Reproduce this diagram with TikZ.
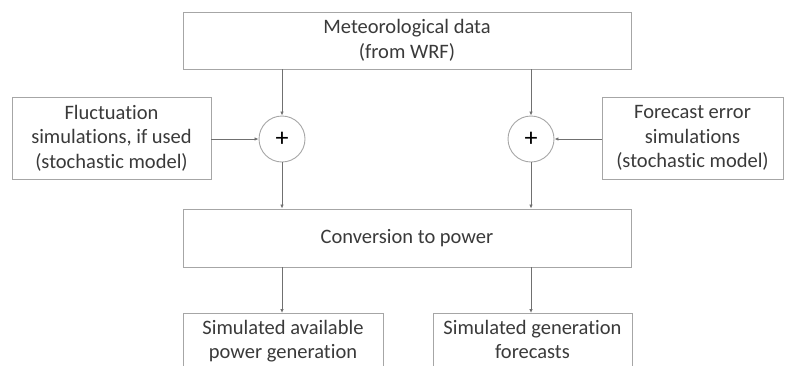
\documentclass[tikz,border=0pt]{standalone}
\usepackage{fontspec}
\setmainfont{Carlito}[Ligatures=NoCommon]
\usetikzlibrary{arrows.meta}
\definecolor{boxline}{HTML}{A6A6A6}
\definecolor{txt}{HTML}{3A3A3A}
\definecolor{arr}{HTML}{707070}
\tikzset{txtfont/.style={font=\fontsize{20.5}{24.5}\selectfont,text=txt}}
\begin{document}
\begin{tikzpicture}[x=1pt,y=-1pt,
  box/.style={draw=boxline,line width=0.9pt,fill=white,inner sep=0pt,align=center,txtfont},
  sumnode/.style={circle,draw=boxline,line width=0.9pt,inner sep=0pt,minimum size=46pt,font=\fontsize{26}{26}\selectfont,text=black},
  conn/.style={draw=arr,line width=0.8pt,-{Latex[length=4pt,width=3.5pt]}}]
\useasboundingbox (0,0) rectangle (790,365);
\clip (0,0) rectangle (790,365);
\node[box,minimum width=448pt,minimum height=57pt] (met) at (407,40.5) {Meteorological data\\(from WRF)};
\node[box,minimum width=199pt,minimum height=82pt] (fluct) at (111.5,138) {Fluctuation\\simulations, if used\\(stochastic model)};
\node[box,minimum width=181pt,minimum height=82pt] (fore) at (692.5,138) {Forecast error\\simulations\\(stochastic model)};
\node[sumnode] (pl) at (282,139) {+};
\node[sumnode] (pr) at (531,139) {+};
\node[box,minimum width=448pt,minimum height=58pt] (conv) at (407,238) {Conversion to power};
\node[box,minimum width=200pt,minimum height=90pt,anchor=north] (sima) at (283,313) {};
\node[box,minimum width=199pt,minimum height=90pt,anchor=north] (simb) at (532.5,313) {};
\node[txtfont,align=center,anchor=north,inner sep=0pt] (simat) at (283,320) {Simulated available\\power generation};
\node[txtfont,align=center,anchor=north,inner sep=0pt] (simbt) at (532.5,320) {Simulated generation\\forecasts};
\draw[conn] (met.south -| pl) -- (pl.north);
\draw[conn] (met.south -| pr) -- (pr.north);
\draw[conn] (fluct.east |- pl) -- (pl.west);
\draw[conn] (fore.west |- pr) -- (pr.east);
\draw[conn] (pl.south) -- (conv.north -| pl);
\draw[conn] (pr.south) -- (conv.north -| pr);
\draw[conn] (conv.south -| pl) -- (sima.north -| pl);
\draw[conn] (conv.south -| pr) -- (simb.north -| pr);
\end{tikzpicture}
\end{document}
